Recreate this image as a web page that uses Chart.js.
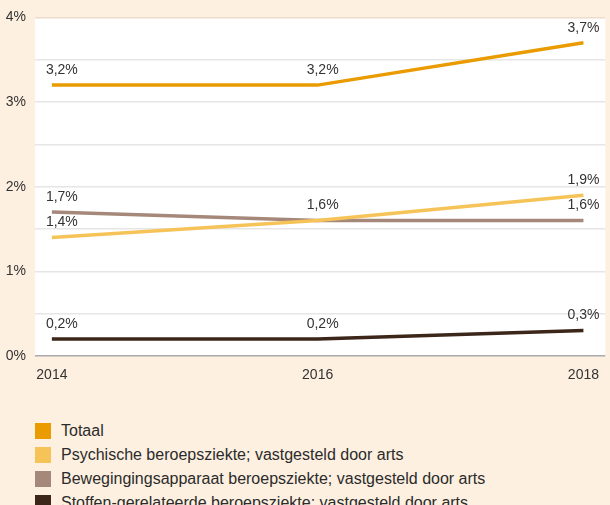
<!DOCTYPE html>
<html>
<head>
<meta charset="utf-8">
<script src="https://cdn.jsdelivr.net/npm/chart.js@4"></script>
<style>
  html, body { margin: 0; padding: 0; background: #fdf0e0; }
  body { width: 610px; height: 505px; overflow: hidden; position: relative; font-family: "Liberation Sans", Arial, sans-serif; }
  #wrap { position: absolute; left: 0; top: 0; width: 610px; height: 390px; }
  #legend { position: absolute; left: 35px; top: 419px; }
  .item { height: 24px; display: flex; align-items: center; }
  .item span.box { width: 16px; height: 16px; margin-right: 10px; flex: none; }
  .item span.txt { font-size: 16px; color: #2b2b2b; white-space: nowrap; }
</style>
</head>
<body>
<div id="wrap"><canvas id="myChart"></canvas></div>
<div id="legend"></div>
<script>
// jaren en waarden (in %)
const years = [2014, 2016, 2018];
const labels = ['Totaal', 'Psychische beroepsziekte; vastgesteld door arts', 'Bewegingingsapparaat beroepsziekte; vastgesteld door arts', 'Stoffen-gerelateerde beroepsziekte; vastgesteld door arts'];
const totaal = [3.2, 3.2, 3.7];
const psychisch = [1.4, 1.6, 1.9];
const beweging = [1.7, 1.6, 1.6];
const stoffen = [0.2, 0.2, 0.3];
const yTicks = [0, 1, 2, 3, 4];
const colors = ['#e99b00', '#f6c358', '#a6887a', '#3b2619'];

const series = [totaal, psychisch, beweging, stoffen];

const fmt = v => v.toFixed(1).replace('.', ',') + '%';

const whiteArea = {
  id: 'whiteArea',
  beforeDraw(chart) {
    const { ctx, chartArea } = chart;
    ctx.save();
    ctx.fillStyle = '#ffffff';
    ctx.fillRect(chartArea.left, chartArea.top, chartArea.right - chartArea.left, chartArea.bottom - chartArea.top);
    ctx.restore();
  }
};

const valueLabels = {
  id: 'valueLabels',
  afterDatasetsDraw(chart) {
    const ctx = chart.ctx;
    const done = {};
    ctx.save();
    ctx.font = '14px "Liberation Sans", Arial, sans-serif';
    ctx.fillStyle = '#333333';
    ctx.textBaseline = 'bottom';
    chart.data.datasets.forEach((ds, i) => {
      chart.getDatasetMeta(i).data.forEach((pt, j) => {
        const key = j + '_' + ds.data[j].y;
        if (done[key]) return; // zelfde label maar 1x
        done[key] = true;
        let x = pt.x;
        if (j === 0) { ctx.textAlign = 'left'; x = pt.x - 6; }
        else if (j === ds.data.length - 1) { ctx.textAlign = 'right'; x = pt.x + 16; }
        else { ctx.textAlign = 'center'; x = pt.x + 5; }
        ctx.fillText(fmt(ds.data[j].y), x, pt.y - 8);
      });
    });
    ctx.restore();
  }
};

const ctx = document.getElementById('myChart');
const chart = new Chart(ctx, {
  type: 'line',
  data: {
    datasets: series.map((s, i) => ({
      label: labels[i],
      data: s.map((v, j) => ({ x: years[j], y: v })),
      borderColor: colors[i],
      backgroundColor: colors[i],
      borderWidth: 3.5,
      pointRadius: 0,
      tension: 0
    }))
  },
  options: {
    responsive: true,
    maintainAspectRatio: false,
    animation: false,
    layout: { padding: { top: 16, right: 0, left: 0, bottom: 0 } },
    plugins: { legend: { display: false }, tooltip: { enabled: false } },
    scales: {
      x: {
        type: 'linear',
        min: 2013.873,
        max: 2018.164,
        afterBuildTicks: s => { s.ticks = years.map(v => ({ value: v })); },
        afterFit: s => { s.height = 34; },
        grid: { display: false, drawTicks: false },
        border: { display: false },
        ticks: {
          padding: 11,
          color: '#333333',
          font: { family: '"Liberation Sans", Arial, sans-serif', size: 14 },
          callback: v => String(v),
          maxRotation: 0
        }
      },
      y: {
        min: 0,
        max: 4,
        afterBuildTicks: s => {
          const t = [];
          for (let v = 0; v <= 4; v += 0.5) t.push({ value: v });
          s.ticks = t;
        },
        afterFit: s => { s.width = 35; },
        grid: {
          drawTicks: false,
          color: c => c.tick.value === 4 ? '#ecdcc9' : (c.tick.value === 0 ? '#aaaaaa' : '#e6e6e6'),
          lineWidth: 1.5
        },
        border: { display: false },
        ticks: {
          padding: 9,
          color: '#333333',
          font: { family: '"Liberation Sans", Arial, sans-serif', size: 14 },
          callback: v => yTicks.includes(v) ? v + '%' : ''
        }
      }
    }
  },
  plugins: [whiteArea, valueLabels]
});

// legenda
const leg = document.getElementById('legend');
labels.forEach((l, i) => {
  const d = document.createElement('div');
  d.className = 'item';
  d.innerHTML = '<span class="box" style="background:' + colors[i] + '"></span><span class="txt">' + l + '</span>';
  leg.appendChild(d);
});
</script>
</body>
</html>
